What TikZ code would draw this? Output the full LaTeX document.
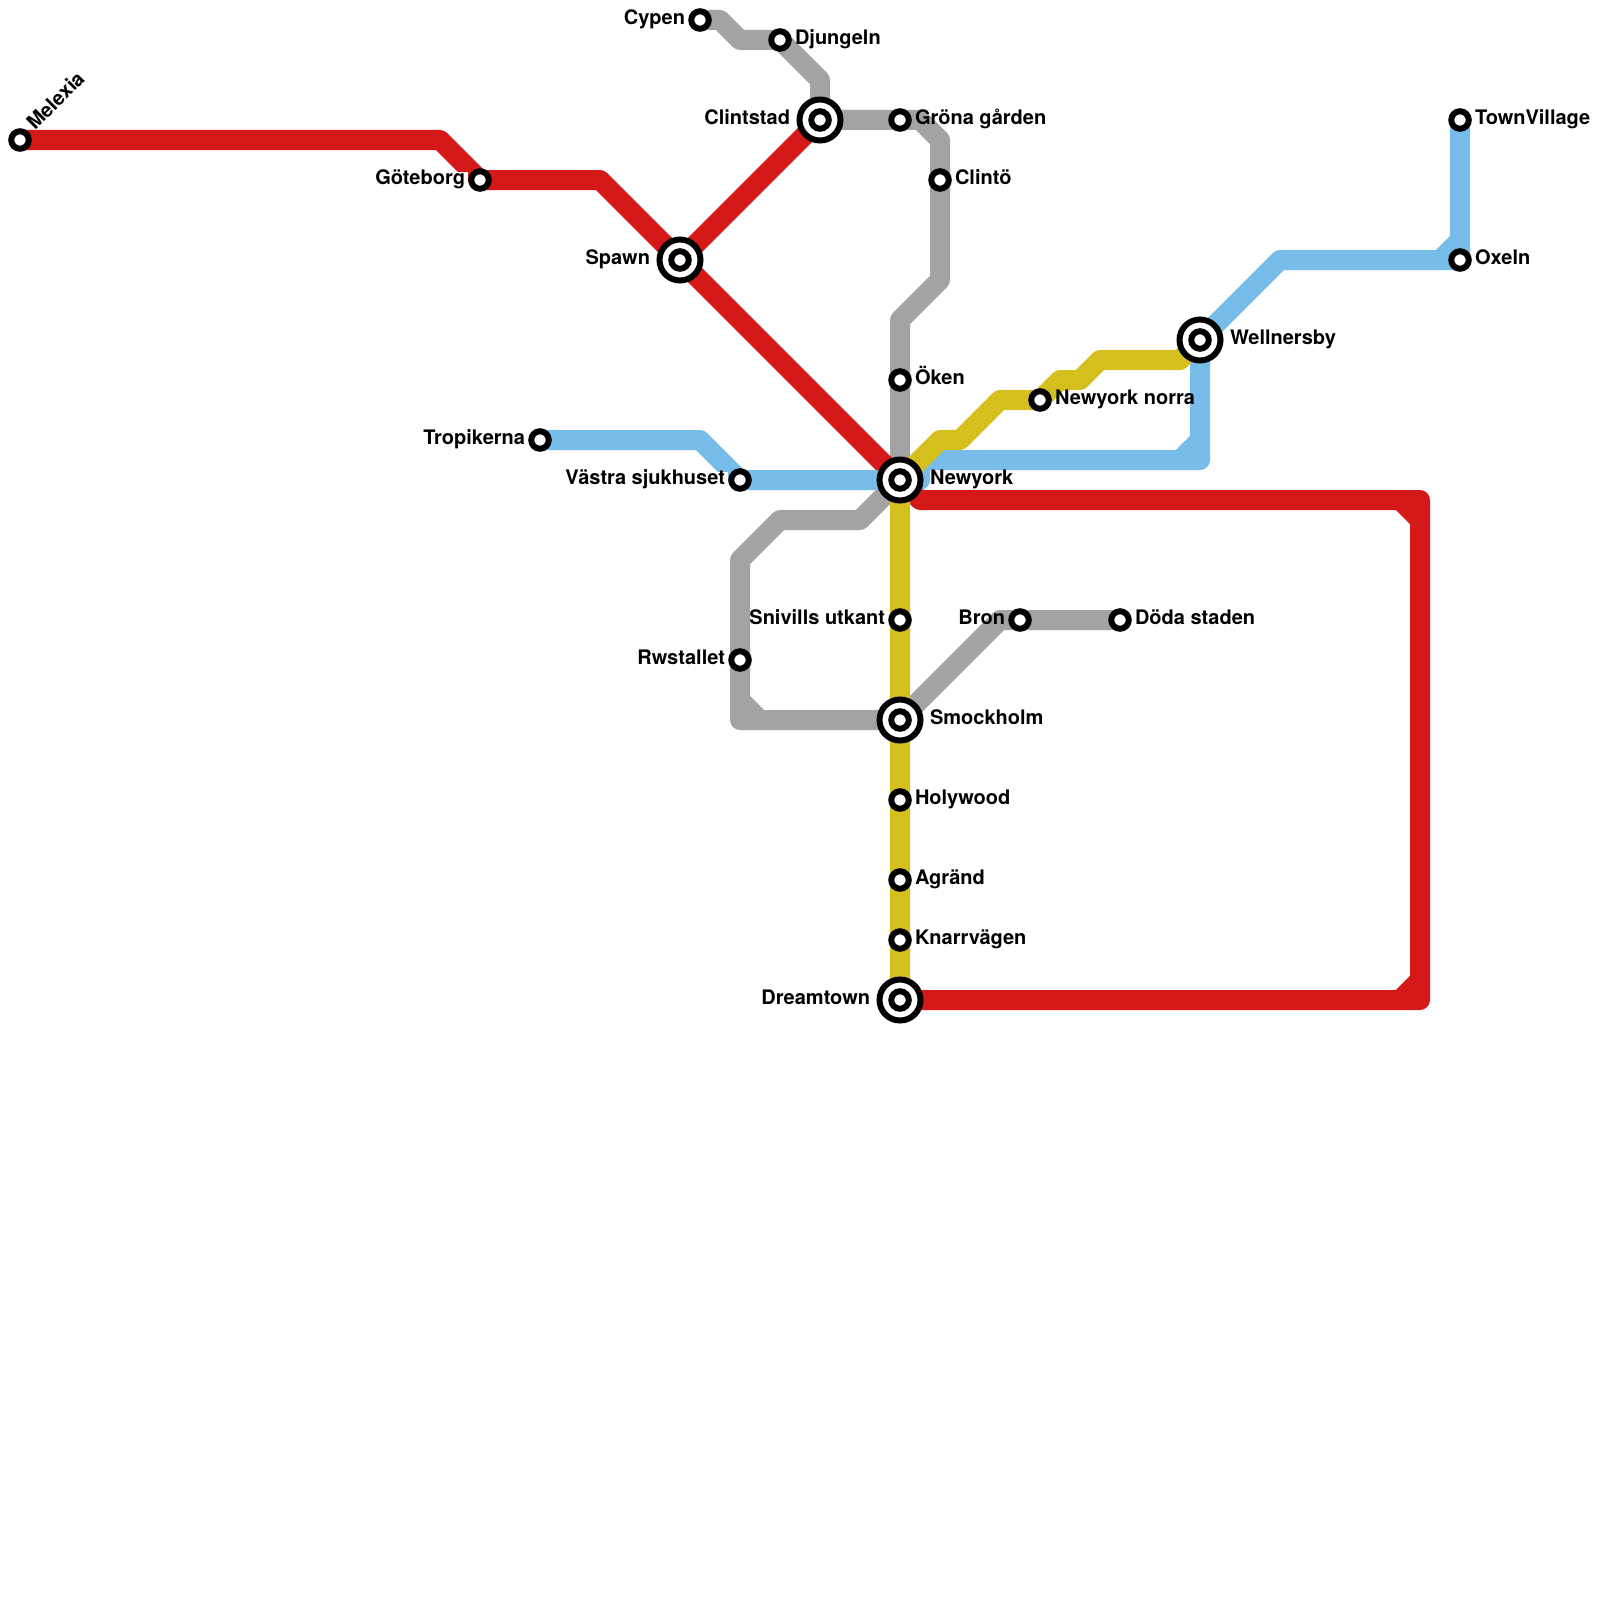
\documentclass[tikz,border=0pt]{standalone}
\usepackage{fontspec}
\setmainfont{TeX Gyre Heros}
\usetikzlibrary{backgrounds}
\definecolor{mred}{HTML}{D51919}
\definecolor{mgray}{HTML}{A3A3A3}
\definecolor{mgold}{HTML}{D5BF1D}
\definecolor{mblue}{HTML}{78BCE9}
\tikzset{
  metro/.style={line width=10pt,line join=round,line cap=butt},
  stn/.style={circle,draw=black,fill=white,line width=3pt,inner sep=0pt,outer sep=0pt,minimum size=8.75pt},
  inter/.style={circle,draw=black,fill=white,line width=3pt,inner sep=0pt,outer sep=0pt,minimum size=20.5pt},
  lbl/.style={font=\bfseries\fontsize{10pt}{12pt}\selectfont,inner sep=0pt,outer sep=0pt,text=black},
  lblR/.style={lbl,anchor=base west,xshift=7.5pt,yshift=-2.2pt},
  lblL/.style={lbl,anchor=base east,xshift=-7.5pt,yshift=-2.2pt},
  lblLbox/.style={lbl,fill=white,text height=6.4pt,text depth=2.2pt,inner xsep=1.5pt,anchor=base east,xshift=-6pt,yshift=-2.2pt},
  lblRR/.style={lbl,anchor=base west,xshift=15pt,yshift=-2.2pt},
  lblLL/.style={lbl,anchor=base east,xshift=-15pt,yshift=-2.2pt}
}
\begin{document}
\begin{tikzpicture}[x=0.5pt,y=-0.5pt]
\useasboundingbox (0,0) rectangle (1600,1600);
% stations
\node[stn] (melexia) at (20,140) {};
\node[stn] (goteborg) at (480,180) {};
\node[inter] (spawn) at (680,260) {};\node[stn] (spawnI) at (spawn.center) {};
\node[inter] (clintstad) at (820,120) {};\node[stn] (clintstadI) at (clintstad.center) {};
\node[stn] (cypen) at (700,20) {};
\node[stn] (djungeln) at (780,40) {};
\node[stn] (grona) at (900,120) {};
\node[stn] (clinto) at (940,180) {};
\node[stn] (oken) at (900,380) {};
\node[inter] (newyork) at (900,480) {};\node[stn] (newyorkI) at (newyork.center) {};
\node[stn] (norra) at (1040,400) {};
\node[inter] (wellnersby) at (1200,340) {};\node[stn] (wellnersbyI) at (wellnersby.center) {};
\node[stn] (townvillage) at (1460,120) {};
\node[stn] (oxeln) at (1460,260) {};
\node[stn] (tropikerna) at (540,440) {};
\node[stn] (vastra) at (740,480) {};
\node[stn] (rwstallet) at (740,660) {};
\node[stn] (snivills) at (900,620) {};
\node[stn] (bron) at (1020,620) {};
\node[stn] (doda) at (1120,620) {};
\node[inter] (smockholm) at (900,720) {};\node[stn] (smockholmI) at (smockholm.center) {};
\node[stn] (holywood) at (900,800) {};
\node[stn] (agrand) at (900,880) {};
\node[stn] (knarr) at (900,940) {};
\node[inter] (dreamtown) at (900,1000) {};\node[stn] (dreamtownI) at (dreamtown.center) {};
% labels
\node[lbl,anchor=base west,rotate=45] (lmelexia) at (35,131) {Melexia};
\node[lblLbox] (lgoteborg) at (goteborg.center) {Göteborg};
\node[lblLL] (lspawn) at (spawn.center) {Spawn};
\node[lblLL] (lclintstad) at (clintstad.center) {Clintstad};
\node[lblL] (lcypen) at (cypen.center) {Cypen};
\node[lblR] (ldjungeln) at (djungeln.center) {Djungeln};
\node[lblR] (lgrona) at (grona.center) {Gröna gården};
\node[lblR] (lclinto) at (clinto.center) {Clintö};
\node[lblR] (loken) at (oken.center) {Öken};
\node[lblRR] (lnewyork) at (newyork.center) {Newyork};
\node[lblR] (lnorra) at (norra.center) {Newyork norra};
\node[lblRR] (lwellnersby) at (wellnersby.center) {Wellnersby};
\node[lblR] (ltownvillage) at (townvillage.center) {TownVillage};
\node[lblR] (loxeln) at (oxeln.center) {Oxeln};
\node[lblL] (ltropikerna) at (tropikerna.center) {Tropikerna};
\node[lblLbox] (lvastra) at (vastra.center) {Västra sjukhuset};
\node[lblL] (lrwstallet) at (rwstallet.center) {Rwstallet};
\node[lblL] (lsnivills) at (snivills.center) {Snivills utkant};
\node[lblL] (lbron) at (bron.center) {Bron};
\node[lblR] (ldoda) at (doda.center) {Döda staden};
\node[lblRR] (lsmockholm) at (smockholm.center) {Smockholm};
\node[lblR] (lholywood) at (holywood.center) {Holywood};
\node[lblR] (lagrand) at (agrand.center) {Agränd};
\node[lblR] (lknarr) at (knarr.center) {Knarrvägen};
\node[lblLL] (ldreamtown) at (dreamtown.center) {Dreamtown};
% bends
\coordinate (g1) at (720,20);\coordinate (g2) at (740,40);\coordinate (g3) at (820,80);
\coordinate (g4) at (920,120);\coordinate (g5) at (940,140);\coordinate (g6) at (940,280);
\coordinate (g7) at (900,320);\coordinate (g8) at (860,520);\coordinate (g9) at (780,520);
\coordinate (g10) at (740,560);\coordinate (g11) at (740,720);\coordinate (g12) at (740,700);
\coordinate (g13) at (760,720);\coordinate (g14) at (1000,620);
\coordinate (b1) at (700,440);\coordinate (b2) at (920,480);\coordinate (b3) at (920,460);
\coordinate (b4) at (1200,460);\coordinate (b5) at (1180,460);\coordinate (b6) at (1200,440);
\coordinate (b7) at (1280,260);\coordinate (b8) at (1440,260);\coordinate (b9) at (1460,240);
\coordinate (r1) at (440,140);\coordinate (r2) at (600,180);\coordinate (r3) at (920,500);
\coordinate (r4) at (1420,500);\coordinate (r5) at (1420,1000);\coordinate (r6) at (1400,500);
\coordinate (r7) at (1420,520);\coordinate (r8) at (1420,980);\coordinate (r9) at (1400,1000);
\coordinate (y1) at (940,440);\coordinate (y2) at (960,440);\coordinate (y3) at (1000,400);
\coordinate (y4) at (1060,380);\coordinate (y5) at (1080,380);\coordinate (y6) at (1100,360);
\coordinate (y7) at (1180,360);
\begin{scope}[on background layer]
% gray
\draw[metro,mgray] (cypen.center) -- (g1) -- (g2) -- (djungeln.center) -- (g3) -- (clintstad.center) -- (grona.center) -- (g4) -- (g5) -- (clinto.center) -- (g6) -- (g7) -- (oken.center) -- (newyork.center) -- (g8) -- (g9) -- (g10) -- (rwstallet.center) -- (g11) -- (smockholm.center) -- (g14) -- (bron.center) -- (doda.center);
\draw[metro,mgray] (g12) -- (g13);
% red
\draw[metro,mred] (melexia.center) -- (r1) -- (goteborg.center) -- (r2) -- (spawn.center) -- (newyork.center) -- (r3) -- (r4) -- (r5) -- (dreamtown.center);
\draw[metro,mred] (spawn.center) -- (clintstad.center);
\draw[metro,mred] (r6) -- (r7);
\draw[metro,mred] (r8) -- (r9);
% blue
\draw[metro,mblue] (tropikerna.center) -- (b1) -- (vastra.center) -- (newyork.center) -- (b2) -- (b3) -- (b4) -- (wellnersby.center) -- (b7) -- (b8) -- (oxeln.center) -- (townvillage.center);
\draw[metro,mblue] (b5) -- (b6);
\draw[metro,mblue] (b8) -- (b9);
% gold
\draw[metro,mgold] (wellnersby.center) -- (y7) -- (y6) -- (y5) -- (y4) -- (norra.center) -- (y3) -- (y2) -- (y1) -- (newyork.center) -- (snivills.center) -- (smockholm.center) -- (holywood.center) -- (agrand.center) -- (knarr.center) -- (dreamtown.center);
\end{scope}
\end{tikzpicture}
\end{document}
